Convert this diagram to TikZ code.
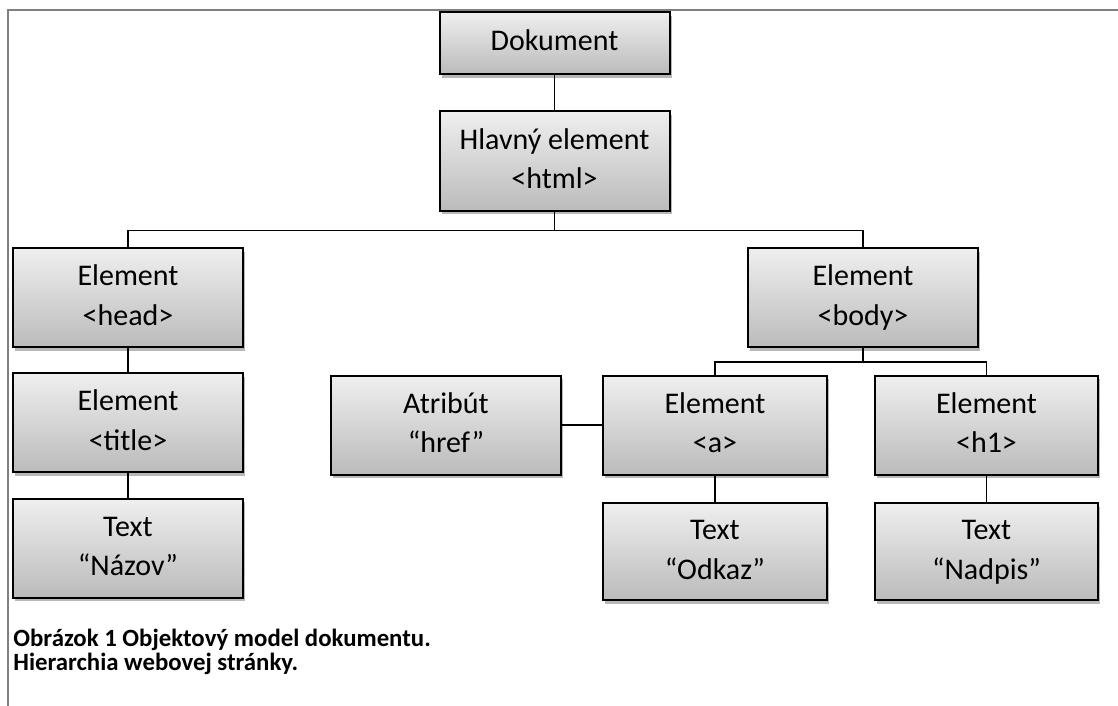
\documentclass[tikz,border=0pt]{standalone}
\usepackage{fontspec}
\setmainfont{Carlito}
\usetikzlibrary{shadows}
\definecolor{topgray}{HTML}{EFEFEF}
\definecolor{botgray}{HTML}{BBBBBB}
\definecolor{framegray}{HTML}{808080}
\newcommand{\twolines}[2]{\strut #1\\\strut #2}
\tikzset{
  domnode/.style={draw=black, line width=1pt, top color=topgray, bottom color=botgray,
    minimum width=115pt, minimum height=49.5pt, inner sep=0pt, align=center,
    font=\fontsize{15}{19.8}\selectfont,
    drop shadow={shadow xshift=1pt, shadow yshift=-1.8pt, opacity=0.28, fill=black}},
  link/.style={draw=black, line width=0.8pt},
  captext/.style={anchor=base west, inner sep=0pt, font=\fontsize{12.4}{12.4}\bfseries\selectfont}
}
\begin{document}
\begin{tikzpicture}[x=0.5pt, y=-0.5pt]
\useasboundingbox (0,0) rectangle (1118,706);
% frame
\coordinate (ftr) at (1118,10);
\coordinate (ftl) at (8,10);
\coordinate (fbl) at (8,706);
\draw[framegray, line width=1pt] (ftr) -- (ftl) -- (fbl);

% nodes
\node[domnode, minimum height=31pt] (doc) at (554.5,43) {\strut Dokument};
\node[domnode] (html) at (554.5,161) {\twolines{Hlavný element}{<html>}};
\node[domnode] (head) at (128,297.5) {\twolines{Element}{<head>}};
\node[domnode] (title) at (128,422.5) {\twolines{Element}{<title>}};
\node[domnode] (nazov) at (128,548) {\twolines{Text}{“Názov”}};
\node[domnode] (body) at (863,297.5) {\twolines{Element}{<body>}};
\node[domnode] (attr) at (446,425) {\twolines{Atribút}{“href”}};
\node[domnode, minimum width=112pt] (a) at (715,425) {\twolines{Element}{<a>}};
\node[domnode, minimum width=111.5pt] (h1) at (986.5,425) {\twolines{Element}{<h1>}};
\node[domnode, minimum width=112pt, minimum height=48.5pt] (odkaz) at (715,551.5) {\twolines{Text}{“Odkaz”}};
\node[domnode, minimum width=111.5pt, minimum height=48.5pt] (nadpis) at (986.5,551.5) {\twolines{Text}{“Nadpis”}};

% connectors
\draw[link] (doc.south) -- (html.north);
\draw[link] (html.south) -- ++(0,19) -| (head.north);
\draw[link] (html.south) -- ++(0,19) -| (body.north);
\draw[link] (head.south) -- (title.north);
\draw[link] (title.south) -- (nazov.north);
\draw[link] (body.south) -- ++(0,14) -| (a.north);
\draw[link] (body.south) -- ++(0,14) -| (h1.north);
\draw[link] (attr.east) -- (a.west);
\draw[link] (a.south) -- (odkaz.north);
\draw[link] (h1.south) -- (nadpis.north);

% caption
\node[captext] (cap1) at (13,646) {Obrázok 1 Objektový model dokumentu.};
\node[captext] (cap2) at (13,670) {Hierarchia webovej stránky.};
\end{tikzpicture}
\end{document}
